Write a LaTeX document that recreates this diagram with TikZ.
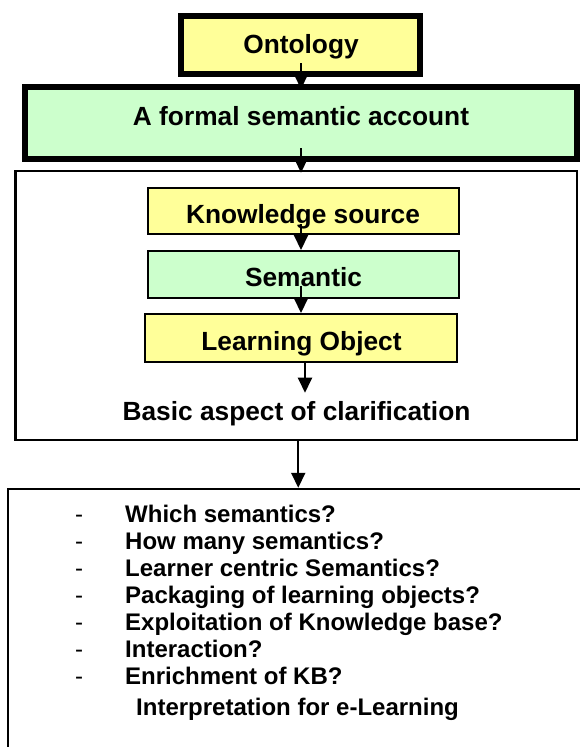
\documentclass[tikz,border=0pt]{standalone}
\usepackage{fontspec}
\setmainfont{Liberation Sans}
\usetikzlibrary{arrows.meta}
\definecolor{boxyellow}{HTML}{FFFF99}
\definecolor{boxgreen}{HTML}{CCFFCC}
\tikzset{
  heavybox/.style={draw=black, line width=6pt, rectangle, inner sep=0pt},
  lightbox/.style={draw=black, line width=2pt, rectangle, inner sep=0pt},
  framebox/.style={draw=black, line width=2.5pt, rectangle, inner sep=0pt, fill=white},
  headtext/.style={inner sep=0pt, anchor=base, font=\fontsize{26.3}{30}\selectfont\bfseries},
  itemtext/.style={inner sep=0pt, anchor=base west, font=\fontsize{24}{28}\selectfont\bfseries},
  dashtext/.style={inner sep=0pt, anchor=base west, font=\fontsize{24}{28}\selectfont},
  flow/.style={line width=2pt, -{Triangle[width=14pt,length=15pt]}}
}
\begin{document}
\begin{tikzpicture}[x=1pt,y=1pt]
  \clip (0,0) rectangle (580,-747);
  \fill[white] (0,0) rectangle (580,-747);

  % top chain
  \node[heavybox, fill=boxyellow, minimum width=239pt, minimum height=58pt] (ont) at (300.5,-45) {};
  \node[heavybox, fill=boxgreen, minimum width=552pt, minimum height=72pt] (fsa) at (301,-123) {};
  \node[headtext] (ontlbl) at (301,-53) {Ontology};
  \node[headtext] (fsalbl) at (301,-125) {A formal semantic account};

  % frame with the three inner steps
  \node[framebox, minimum width=561.5pt, minimum height=269pt] (big) at (296.25,-305.5) {};
  \node[lightbox, fill=boxyellow, minimum width=311pt, minimum height=46pt] (ks) at (303.5,-211) {};
  \node[lightbox, fill=boxgreen, minimum width=311pt, minimum height=47pt] (sem) at (303.5,-274.5) {};
  \node[lightbox, fill=boxyellow, minimum width=312pt, minimum height=48pt] (lo) at (301,-338) {};
  \node[headtext] (kslbl) at (303,-223) {Knowledge source};
  \node[headtext] (semlbl) at (303.5,-286) {Semantic};
  \node[headtext] (lolbl) at (301.5,-350) {Learning Object};
  \node[headtext] (basic) at (296.5,-420) {Basic aspect of clarification};

  % bottom frame with the question list
  \node[framebox, minimum width=592pt, minimum height=271pt] (bot) at (304,-624.5) {};
  \foreach \y/\t [count=\i] in {522/Which semantics?, 549/How many semantics?,
      576/Learner centric Semantics?, 603/Packaging of learning objects?,
      630/Exploitation of Knowledge base?, 657/Interaction?, 684/Enrichment of KB?} {
    \node[dashtext] (dash\i) at (75,-\y) {-};
    \node[itemtext] (item\i) at (125,-\y) {\t};
  }
  \node[itemtext] (interp) at (136,-715) {Interpretation for e-Learning};

  % connectors
  \draw[flow] ([xshift=0.5pt,yshift=14pt]ont.south) -- ([yshift=-5pt]fsa.north);
  \draw[flow] ([yshift=14pt]fsa.south) -- ([yshift=-3pt]fsa.south |- big.north);
  \draw[flow] ([xshift=-2.5pt,yshift=11pt]ks.south) -- ([xshift=-2.5pt]sem.north);
  \draw[flow] ([xshift=-2.5pt,yshift=13pt]sem.south) -- (lo.north);
  \draw[flow] ([xshift=4pt]lo.south) -- ([xshift=8.5pt,yshift=8pt]basic.north);
  \draw[flow] ([xshift=2pt]big.south) -- ([xshift=2pt]big.south |- bot.north);
\end{tikzpicture}
\end{document}
